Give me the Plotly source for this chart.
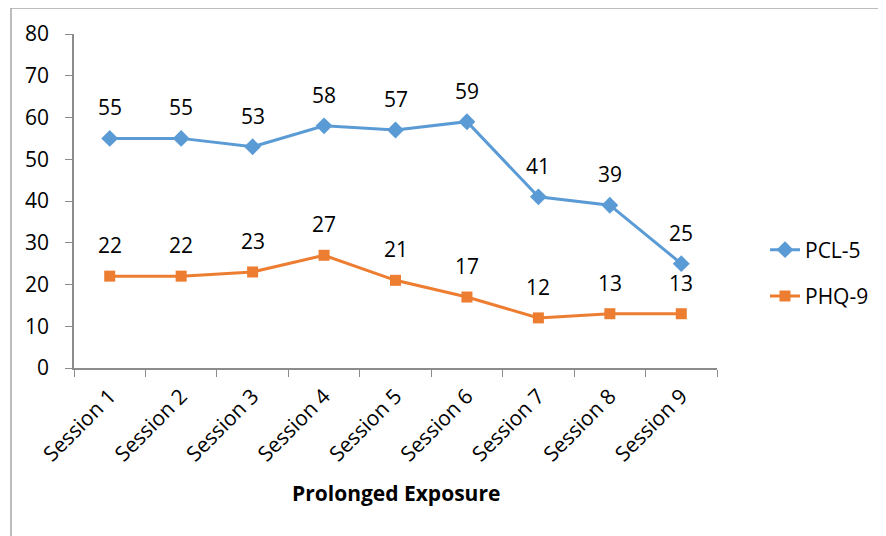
import plotly.graph_objects as go

sessions = ["Session 1", "Session 2", "Session 3", "Session 4", "Session 5",
            "Session 6", "Session 7", "Session 8", "Session 9"]
pcl5 = [55, 55, 53, 58, 57, 59, 41, 39, 25]
phq9 = [22, 22, 23, 27, 21, 17, 12, 13, 13]
y_ticks = [0, 10, 20, 30, 40, 50, 60, 70, 80]

BLUE = "#5B9BD5"
ORANGE = "#ED7D31"
FONT = "Open Sans"
FS = 21

# page body has an 8px margin; figure is laid out in page coords minus 8
OFF = 8
W, H = 886 - OFF, 536 - OFF
L, T = 74 - OFF, 34 - OFF
R = W - (717 - OFF)
B = H - (368 - OFF)

fig = go.Figure()
fig.add_trace(go.Scatter(x=sessions, y=pcl5, name="PCL-5", mode="lines+markers",
                         legendgroup="a",
                         line=dict(color=BLUE, width=3),
                         marker=dict(symbol="diamond", size=13, color=BLUE)))
fig.add_trace(go.Scatter(x=sessions, y=phq9, name="PHQ-9", mode="lines+markers",
                         legendgroup="b",
                         line=dict(color=ORANGE, width=3),
                         marker=dict(symbol="square", size=11, color=ORANGE)))

annotations = []
for s, v in zip(sessions, pcl5):
    annotations.append(dict(x=s, y=v, text=str(v), showarrow=False, yshift=31,
                            font=dict(size=FS, color="#000000", family=FONT)))
for s, v in zip(sessions, phq9):
    annotations.append(dict(x=s, y=v, text=str(v), showarrow=False, yshift=31,
                            font=dict(size=FS, color="#000000", family=FONT)))

pw = W - L - R
ph = H - T - B


def px_x(x):
    return (x - OFF - L) / pw


def px_y(y):
    return 1 - (y - OFF - T) / ph


x0 = px_x(11)
y1 = px_y(8)

annotations.append(dict(xref="paper", yref="paper", x=0.5, y=px_y(493),
                        text="<b>Prolonged Exposure</b>", showarrow=False,
                        xanchor="center", yanchor="middle",
                        font=dict(size=FS, color="#000000", family=FONT)))

fig.update_layout(
    width=W, height=H,
    margin=dict(l=L, r=R, t=T, b=B, pad=0, autoexpand=False),
    paper_bgcolor="white", plot_bgcolor="white",
    font=dict(family=FONT, size=FS, color="#000000"),
    showlegend=True,
    legend=dict(x=px_x(765), y=px_y(273),
                xanchor="left", yanchor="middle", traceorder="grouped",
                font=dict(size=FS, family=FONT), tracegroupgap=16,
                bgcolor="rgba(0,0,0,0)"),
    annotations=annotations,
    shapes=[
        dict(type="line", xref="paper", yref="paper", x0=x0, x1=1.5, y0=y1, y1=y1,
             line=dict(color="#A6A6A6", width=1.5)),
        dict(type="line", xref="paper", yref="paper", x0=x0, x1=x0, y0=y1, y1=-1,
             line=dict(color="#A6A6A6", width=1.5)),
    ],
)
fig.update_xaxes(type="category", range=[-0.5, 8.5], tickson="boundaries",
                 ticks="outside", ticklen=7, tickcolor="#8C8C8C",
                 showline=True, linecolor="#8C8C8C", linewidth=1.5,
                 showgrid=False, tickangle=-45, automargin=False,
                 ticklabelstandoff=6,
                 tickfont=dict(size=FS, family=FONT))
fig.update_yaxes(range=[0, 80], tickvals=y_ticks, ticks="outside", ticklen=7,
                 tickcolor="#8C8C8C", showline=True, linecolor="#8C8C8C",
                 linewidth=1.5, showgrid=False, zeroline=False, automargin=False,
                 ticklabelstandoff=12,
                 tickfont=dict(size=FS, family=FONT))

fig.write_html("out.html")
